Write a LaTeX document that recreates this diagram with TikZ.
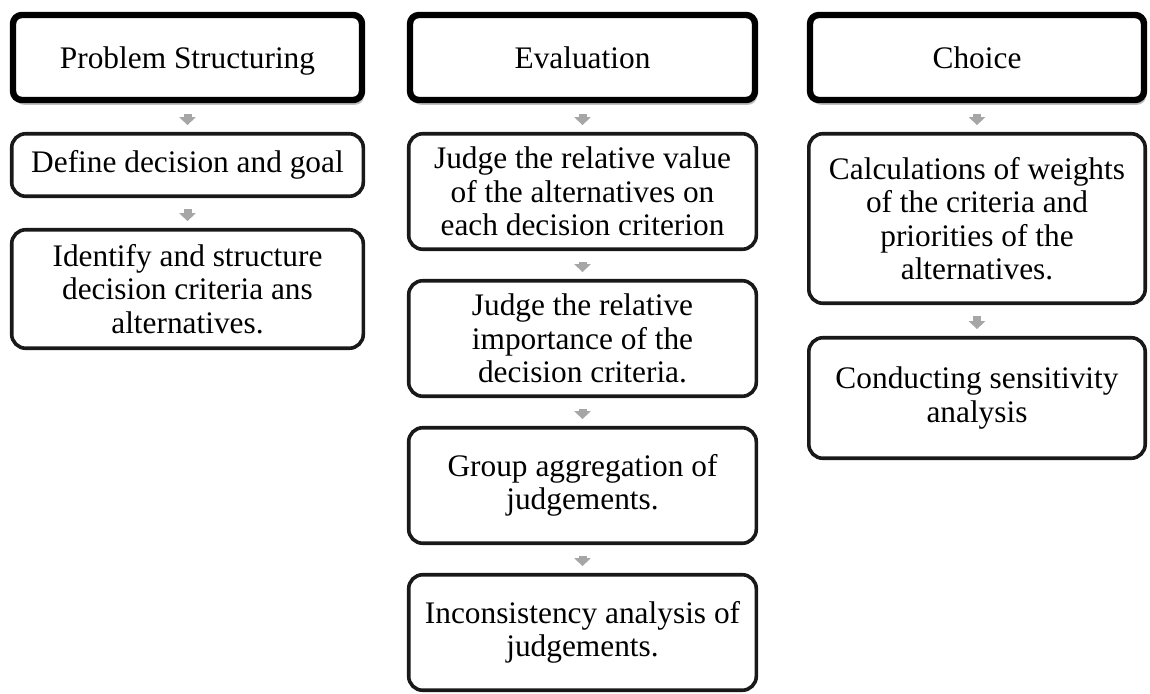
\documentclass[tikz,border=0pt]{standalone}
\usepackage{fontspec}
\setmainfont{Liberation Serif}
\usepackage{tikz}
\usetikzlibrary{shadows, arrows.meta}

\begin{document}
\begin{tikzpicture}[
    head/.style={draw=black, line width=0.16cm, rounded corners=0.22cm, fill=white,
        align=center, inner sep=0pt, text height=15pt, text depth=0pt,
        drop shadow={shadow xshift=0.05cm, shadow yshift=-0.12cm, opacity=0.25, fill=black}},
    stage/.style={draw=black!90, line width=0.09cm, rounded corners=0.35cm, fill=white,
        align=center, inner sep=0pt},
    link/.style={draw=black!35, line width=0.2cm,
        -{Triangle[width=0.4cm, length=0.2cm]}, shorten <=0.28cm, shorten >=0.17cm},
    font=\fontsize{22.3}{23.8}\selectfont]
    \useasboundingbox (0, 0) rectangle (28.75, -17.35);

    % Problem Structuring
    \node[head, minimum width=8.725cm, minimum height=2.125cm] (ps) at (4.6875, -1.4375) {Problem Structuring};
    \node[stage, minimum width=8.79cm, minimum height=1.5625cm] (ps1) at (4.6875, -4.125) {Define decision and goal};
    \node[stage, minimum width=8.79cm, minimum height=2.9625cm] (ps2) at (4.6875, -7.225) {Identify and structure\\decision criteria ans\\alternatives.};
    \draw[link] (ps) -- (ps1);
    \draw[link] (ps1) -- (ps2);

    % Evaluation
    \node[head, minimum width=8.625cm, minimum height=2.125cm] (ev) at (14.5625, -1.4375) {Evaluation};
    \node[stage, minimum width=8.69cm, minimum height=2.8875cm] (ev1) at (14.5625, -4.7875) {Judge the relative value\\of the alternatives on\\each decision criterion};
    \node[stage, minimum width=8.69cm, minimum height=2.8875cm] (ev2) at (14.5625, -8.4625) {Judge the relative\\importance of the\\decision criteria.};
    \node[stage, minimum width=8.69cm, minimum height=2.8875cm] (ev3) at (14.5625, -12.1375) {Group aggregation of\\judgements.};
    \node[stage, minimum width=8.69cm, minimum height=2.8875cm] (ev4) at (14.5625, -15.8125) {Inconsistency analysis of\\judgements.};
    \draw[link] (ev) -- (ev1);
    \draw[link] (ev1) -- (ev2);
    \draw[link] (ev2) -- (ev3);
    \draw[link] (ev3) -- (ev4);

    % Choice
    \node[head, minimum width=8.35cm, minimum height=2.125cm] (ch) at (24.425, -1.4375) {Choice};
    \node[stage, minimum width=8.41cm, minimum height=4.2375cm] (ch1) at (24.425, -5.4625) {Calculations of weights\\of the criteria and\\priorities of the\\alternatives.};
    \node[stage, minimum width=8.41cm, minimum height=3.0125cm] (ch2) at (24.425, -9.95) {Conducting sensitivity\\analysis};
    \draw[link] (ch) -- (ch1);
    \draw[link] (ch1) -- (ch2);
\end{tikzpicture}
\end{document}
